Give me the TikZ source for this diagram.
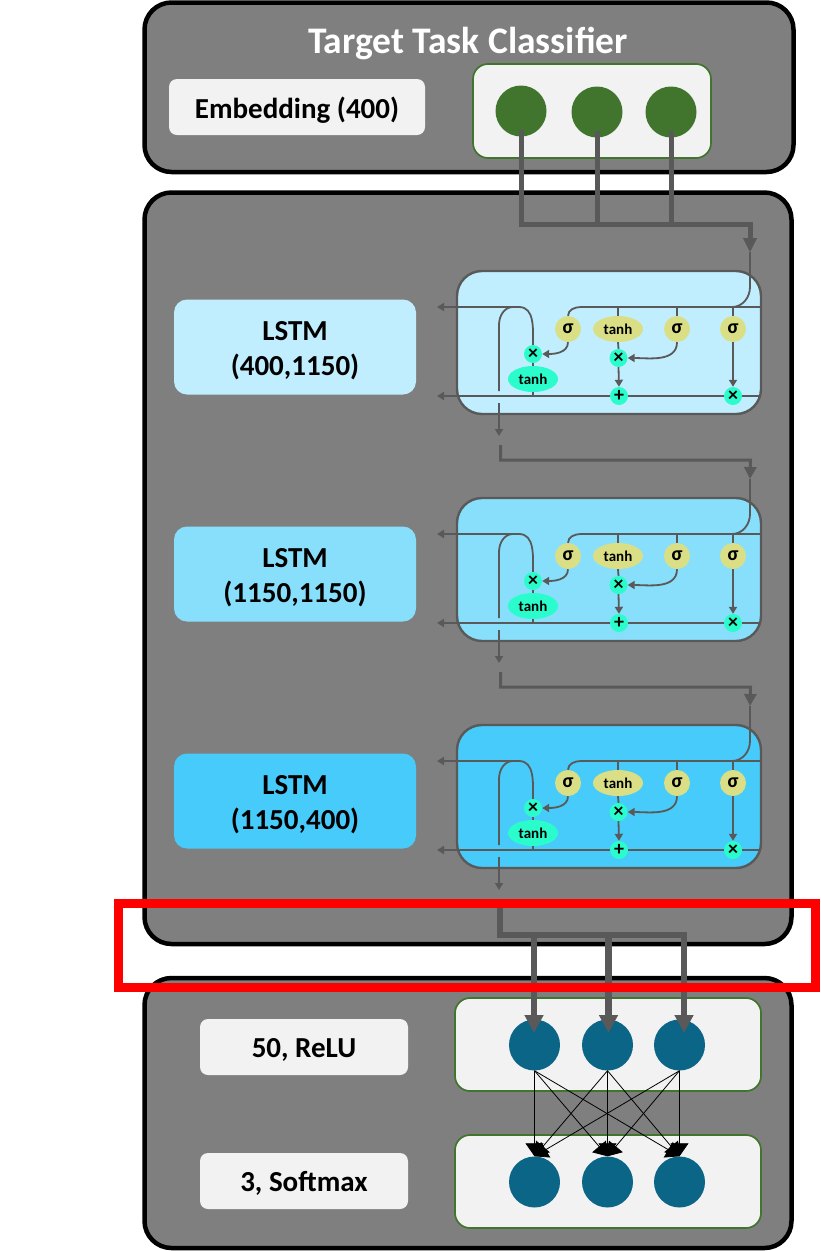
\documentclass[tikz,border=0pt]{standalone}
\usepackage{fontspec}
\setmainfont{Carlito}
\usetikzlibrary{arrows.meta,shapes.geometric}

\definecolor{panelgray}{HTML}{7F7F7F}
\definecolor{wiregray}{HTML}{595959}
\definecolor{boxgray}{HTML}{F2F2F2}
\definecolor{leafgreen}{HTML}{41752D}
\definecolor{deepteal}{HTML}{0A6587}
\definecolor{opteal}{HTML}{2BFCCB}
\definecolor{gateyellow}{HTML}{DADF86}
\definecolor{lstmA}{HTML}{C1EEFF}
\definecolor{lstmB}{HTML}{87DFFB}
\definecolor{lstmC}{HTML}{47CBFA}

\tikzset{
    panel/.style={draw=black, line width=4.5pt, fill=panelgray, rounded corners=27pt},
    layerbox/.style={draw=leafgreen, line width=1.7pt, fill=boxgray, rounded corners=15pt, inner sep=0pt},
    namebox/.style={fill=boxgray, rounded corners=8pt, inner sep=0pt, align=center, text depth=0pt, font=\fontsize{29}{32}\selectfont\bfseries},
    lstmbox/.style={rounded corners=13pt, inner sep=0pt, minimum width=242pt, minimum height=95pt, align=center, font=\fontsize{29}{35}\selectfont\bfseries},
    cellbox/.style={draw=wiregray, line width=2.4pt, rounded corners=25pt, inner sep=0pt, minimum width=304pt, minimum height=143pt},
    unit/.style={circle, inner sep=0pt, minimum size=51pt, fill=deepteal},
    leaf/.style={circle, inner sep=0pt, minimum size=51pt, fill=leafgreen},
    gate/.style={circle, inner sep=0pt, minimum size=26pt, fill=gateyellow, font=\fontsize{20}{20}\selectfont\bfseries},
    gatelong/.style={ellipse, inner sep=0pt, minimum width=50pt, minimum height=26pt, fill=gateyellow, font=\fontsize{15}{15}\selectfont\bfseries},
    optanh/.style={gatelong, fill=opteal},
    opdot/.style={circle, inner sep=0pt, minimum size=18pt, fill=opteal, font=\fontsize{20}{20}\selectfont\bfseries},
    wire/.style={draw=wiregray, line width=1.8pt},
    wirearrow/.style={wire, -{Triangle[length=7pt,width=8pt]}},
    linkarrow/.style={draw=wiregray, line width=3pt, -{Triangle[length=12pt,width=12pt]}},
    bundle/.style={draw=wiregray, line width=5pt},
    bundlearrow/.style={draw=wiregray, line width=6.5pt, -{Triangle[length=18pt,width=18pt]}},
    dense/.style={draw=black, line width=0.8pt, -{Triangle[length=13pt,width=18pt]}},
}

\begin{document}
\begin{tikzpicture}[x=1pt, y=-1pt]
    \useasboundingbox (0, 0) rectangle (820, 1251);

    % three panels
    \draw[panel] (144.5, 2.5) rectangle (793.5, 172);
    \draw[panel] (144.5, 192.5) rectangle (791.5, 944);
    \draw[panel] (144.5, 978) rectangle (791.5, 1248);

    % embedding
    \node[white, font=\fontsize{37.5}{37.5}\selectfont\bfseries] (title) at (468, 43) {Target Task Classifier};
    \node[fill=boxgray, rounded corners=8pt, minimum width=256pt, minimum height=56pt] (embname) at (297, 107) {};
    \node[namebox, fill=none] (embtext) at (297, 108) {Embedding (400)};
    \node[layerbox, minimum width=238pt, minimum height=94pt] (emblayer) at (592, 111) {};
    \node[leaf] (emb1) at (521, 111) {};
    \node[leaf] (emb2) at (597, 112) {};
    \node[leaf] (emb3) at (671, 112) {};

    \coordinate (embturn) at (750, 224);
    \draw[bundle] ([yshift=-19pt]emb2.center) -- (597, 224);
    \draw[bundle] ([yshift=-19pt]emb3.center) -- (671, 224);
    \draw[bundle] ([yshift=-19pt]emb1.center) |- (embturn) -- (750, 240);

    % lstm cells
    \foreach \i/\dy/\col/\txt in {1/0/lstmA/{(400,1150)}, 2/227/lstmB/{(1150,1150)}, 3/454/lstmC/{(1150,400)}} {
        \begin{scope}[shift={(0, \dy)}]
            \node[lstmbox, fill=\col] (name\i) at (295, 347) {};
            \node[align=center, font=\fontsize{29}{35}\selectfont\bfseries] (nametext\i) at (295, 351) {LSTM\\\txt};
            \node[cellbox, fill=\col] (cell\i) at (609, 342.5) {};

            \node[gate] (sigA\i) at (568, 329) {σ};
            \node[gatelong] (tanA\i) at (618, 329) {tanh};
            \node[gate] (sigB\i) at (677, 329) {σ};
            \node[gate] (sigC\i) at (733, 329) {σ};
            \node[opdot] (mulA\i) at (533, 354) {×};
            \node[optanh] (tanB\i) at (533, 379) {tanh};
            \node[opdot] (mulB\i) at (618.5, 358) {×};
            \node[opdot] (add\i) at (619, 396) {+};
            \node[opdot] (mulC\i) at (733, 396) {×};

            \coordinate (entry\i) at (750, 252);
            \coordinate (topR\i) at (761, 307);
            \coordinate (topL\i) at (437, 307);
            \coordinate (botR\i) at (761, 396);
            \coordinate (botL\i) at (437, 396);
            \coordinate (loop\i) at (499, 391);
            \coordinate (outS\i) at (499, 403);
            \coordinate (outE\i) at (499, 436);
            \coordinate (linkS\i) at (500.5, 445);
            \coordinate (linkM\i) at (750.5, 460);

            % long lines
            \draw[wire] (topR\i) -- (581, 307) to[out=180, in=90] (sigA\i.north);
            \draw[wire] (entry\i) -- (750, 287) to[out=-90, in=0] (732, 307);
            \draw[wire] (mulC\i.west) -- (add\i.east);
            \draw[wire] (botR\i) -- (mulC\i.east);
            \draw[wirearrow] (add\i.west) -- (botL\i);
            \draw[wire] (loop\i) -- (499, 325) to[out=90, in=180] (513, 307) -- (519, 307) to[out=0, in=90] (mulA\i.north);
            \draw[wirearrow] (513, 307) -- (topL\i);
            \draw[wirearrow] (outS\i) -- (outE\i);

            % inside the cell
            \draw[wire] (618, 307) -- (tanA\i.north);
            \draw[wire] (677, 307) -- (sigB\i.north);
            \draw[wire] (733, 307) -- (sigC\i.north);
            \draw[wire] (tanA\i.south) -- (mulB\i.north);
            \draw[wirearrow] (mulB\i.south) -- (add\i.north);
            \draw[wirearrow] (sigC\i.south) -- (mulC\i.north);
            \draw[wirearrow] (sigA\i.south) to[out=-90, in=0] (mulA\i.east);
            \draw[wirearrow] (sigB\i.south) to[out=-90, in=0] (mulB\i.east);
            \draw[wire] (tanB\i.north) -- (mulA\i.south);
            \draw[wire] (tanB\i.south) -- (533, 396);
        \end{scope}
    }

    % from one cell to the next
    \draw[linkarrow] (linkS1) |- (linkM1) -- (entry2);
    \draw[linkarrow] (linkS2) |- (linkM2) -- (entry3);
    \draw[draw=wiregray, -{Triangle[length=14pt,width=14pt]}, line width=1pt] (750, 238) -- (entry1);

    % dense layers
    \node[fill=boxgray, rounded corners=8pt, minimum width=208pt, minimum height=56pt] (hidname) at (304, 1047) {};
    \node[fill=boxgray, rounded corners=8pt, minimum width=208pt, minimum height=56pt] (outname) at (304, 1181) {};
    \node[namebox, fill=none] (hidtext) at (304, 1048) {50, ReLU};
    \node[namebox, fill=none] (outtext) at (304, 1181) {3, Softmax};
    \node[layerbox, minimum width=306pt, minimum height=93pt] (hidlayer) at (608, 1044.5) {};
    \node[layerbox, minimum width=306pt, minimum height=93pt] (outlayer) at (608, 1181.5) {};
    \foreach \i/\x in {1/534.5, 2/607.5, 3/679.5} {
        \node[unit] (hid\i) at (\x, 1045) {};
        \node[unit] (out\i) at (\x, 1182) {};
    }

    \foreach \i in {1, 2, 3} {
        \foreach \j in {1, 2, 3} {
            \draw[dense] (hid\i.south) -- (out\j.north);
        }
    }

    % from the last cell to the dense layer
    \coordinate (lastS) at (500, 908);
    \coordinate (lastT) at (684, 935);
    \coordinate (tipA) at (534, 1033);
    \coordinate (tipB) at (608.5, 1033);
    \coordinate (tipC) at (684, 1033);
    \draw[bundlearrow] (534, 935) -- (tipA);
    \draw[bundlearrow] (608.5, 935) -- (tipB);
    \draw[bundlearrow] (lastS) |- (lastT) -- (tipC);

    % red frame
    \node[draw=red, line width=9pt, inner sep=0pt, minimum width=697pt, minimum height=84pt] (frame) at (467, 945.5) {};
\end{tikzpicture}
\end{document}
